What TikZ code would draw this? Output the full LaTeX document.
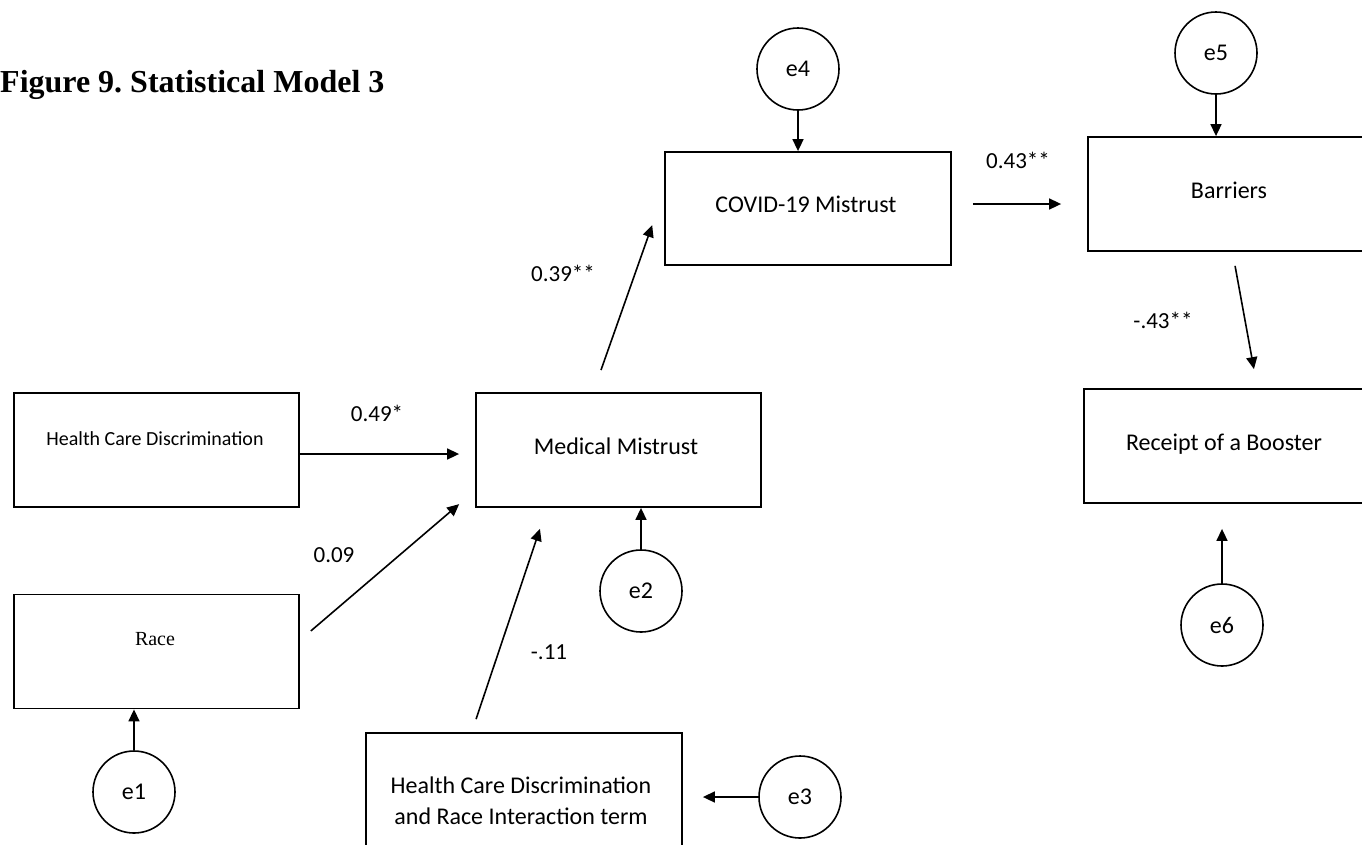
\documentclass[tikz,border=0pt]{standalone}
\usepackage{fontspec}
\setmainfont{Carlito}
\newfontfamily\serifface{Liberation Serif}
\usetikzlibrary{arrows.meta,calc}
\frenchspacing

\tikzset{
  box/.style={draw, rectangle, line width=1.8pt, minimum width=285pt,
    minimum height=114pt, inner sep=0pt},
  err/.style={draw, circle, line width=1.6pt, minimum size=82pt, inner sep=0pt,
    font=\fontsize{24}{28}\selectfont},
  txt/.style={inner sep=0pt, text depth=0pt, text height=#1},
  txt/.default=16pt,
  boxtext/.style={txt, font=\fontsize{24}{28}\selectfont},
  coef/.style={txt=15pt, font=\fontsize{23}{27}\selectfont},
  link/.style={line width=1.6pt, -{Triangle[length=12pt,width=11pt]}},
}

\begin{document}
\begin{tikzpicture}[x=1pt, y=-1pt]
  \fill[white] (0,0) rectangle (1362,844);
  \useasboundingbox (0,0) rectangle (1362,844);

  % title
  \node[anchor=base west, inner sep=0pt,
        font=\serifface\bfseries\fontsize{32}{38}\selectfont] (title) at (0,92)
        {Figure 9. Statistical Model 3};

  % observed variables
  \node[box] (hcd)      at (156.5,450)   {};
  \node[box] (race)     at (156.5,651.5) {};
  \node[box] (mm)       at (618.5,450)   {};
  \node[box, minimum width=316pt, minimum height=118pt] (hcdr) at (524,792) {};
  \node[box, minimum width=286pt, minimum height=113pt] (covid) at (808,208.5) {};
  \node[box] (barriers) at (1230.5,194)  {};
  \node[box] (receipt)  at (1226.5,446)  {};

  % box captions
  \node[txt=13pt, font=\fontsize{20}{24}\selectfont] (hcdT) at (155,439)
        {Health Care Discrimination};
  \node[txt=13pt, font=\serifface\fontsize{20}{24}\selectfont] (raceT) at (155,639) {Race};
  \node[boxtext] (mmT)       at (616,446)    {Medical Mistrust};
  \node[boxtext] (covidT)    at (806,204)    {COVID-19 Mistrust};
  \node[boxtext] (barriersT) at (1229,190)   {Barriers};
  \node[boxtext] (receiptT)  at (1224,442.5) {Receipt of a Booster};
  \node[align=center, inner sep=0pt, font=\fontsize{24}{31}\selectfont] (hcdrT)
        at (521,801) {Health Care Discrimination\\and Race Interaction term};

  % error terms
  \node[err] (e1) at (134,792)  {e1};
  \node[err] (e2) at (641,591)  {e2};
  \node[err] (e3) at (800,797)  {e3};
  \node[err] (e4) at (798,69)   {e4};
  \node[err] (e5) at (1216,53)  {e5};
  \node[err] (e6) at (1222,625) {e6};

  % structural paths
  \draw[link, shorten >=16pt] ($(hcd.east)+(0,4)$) -- ($(hcd.east -| mm.west)+(0,4)$);
  \draw[link, shorten <=14.4pt, shorten >=21pt]
        ($(race.east)+(0,-11.2)$) -- ($(mm.west)+(0,40.5)$);
  \draw[link, shorten <=13.7pt, shorten >=22.1pt]
        ($(hcdr.north)+(-52.3,0)$) -- ($(mm.south)+(-71.5,0)$);
  \draw[link, shorten <=23.4pt, shorten >=35.8pt]
        ($(mm.north)+(-25.3,0)$) -- ($(covid.west)+(0,-17.2)$);
  \draw[link, shorten <=21pt, shorten >=26pt]
        ($(covid.east)+(0,-4.5)$) -- ($(covid.east -| barriers.west)+(0,-4.5)$);
  \draw[link, shorten <=14.2pt, shorten >=19.3pt]
        ($(barriers.south)+(2,0)$) -- ($(receipt.north)+(30.9,0)$);

  % error paths
  \draw[link] (e1.north) -- (e1.north |- race.south);
  \draw[link] (e2.north) -- (e2.north |- mm.south);
  \draw[link, shorten >=20pt] (e3.west) -- (e3.west -| hcdr.east);
  \draw[link] (e4.south) -- (e4.south |- covid.north);
  \draw[link] (e5.south) -- (e5.south |- barriers.north);
  \draw[link, shorten >=25pt] (e6.north) -- (e6.north |- receipt.south);

  % path coefficients
  \node[coef] (c1) at (377,414)   {0.49*};
  \node[coef] (c2) at (334,554.5) {0.09};
  \node[coef] (c3) at (549,652)   {-.11};
  \node[coef] (c4) at (563,273.5) {0.39**};
  \node[coef] (c5) at (1018,161)  {0.43**};
  \node[coef] (c6) at (1163,321)  {-.43**};
\end{tikzpicture}
\end{document}
